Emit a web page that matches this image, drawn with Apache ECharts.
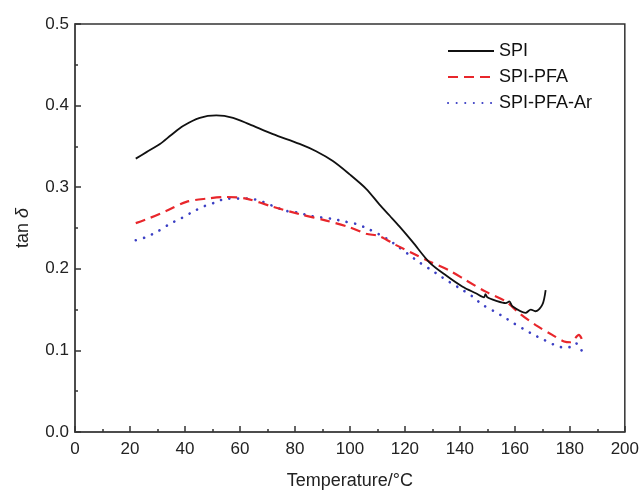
<!DOCTYPE html>
<html><head><meta charset="utf-8">
<script src="https://cdn.jsdelivr.net/npm/echarts@6/dist/echarts.min.js"></script>
<style>html,body{margin:0;padding:0;background:#fff}#c{width:642px;height:495px}</style>
</head><body><div id="c"></div>
<script>
const seriesNames = ['SPI', 'SPI-PFA', 'SPI-PFA-Ar'];
const spi = [[22.1,0.335],[26,0.343],[30.9,0.353],[35,0.364],[39.3,0.375],[45.4,0.385],[51.4,0.388],[57.5,0.385],[63.5,0.377],[72,0.365],[81.7,0.353],[87.7,0.344],[93.8,0.332],[99.8,0.316],[105.9,0.298],[110.7,0.279],[114.5,0.265],[118,0.252],[122.8,0.233],[128.9,0.208],[134.9,0.192],[141,0.178],[145.8,0.170],[148.8,0.165],[149.3,0.169],[150,0.165],[153,0.161],[156.7,0.158],[158,0.160],[159.1,0.154],[163.9,0.146],[165.8,0.150],[167.6,0.148],[170,0.156],[171.2,0.174]];
const spiPfa = [[22.1,0.256],[27,0.262],[33.3,0.271],[40.5,0.282],[47.8,0.286],[55.1,0.288],[62.3,0.286],[72,0.276],[81.7,0.267],[91.4,0.259],[99.8,0.251],[105.9,0.243],[110.7,0.240],[116.8,0.229],[122.8,0.219],[128.9,0.209],[136.1,0.198],[142.2,0.186],[149.4,0.172],[156.7,0.160],[161.5,0.146],[167.6,0.131],[173.6,0.119],[177.9,0.111],[180.3,0.110],[183.3,0.119],[184.2,0.115],[185.1,0.107]];
const spiPfaAr = [[22.1,0.235],[26,0.239],[30.2,0.246],[34.5,0.255],[38.7,0.262],[42.9,0.270],[47.2,0.277],[50.8,0.281],[55.1,0.286],[59.3,0.286],[63.5,0.286],[68.3,0.282],[72,0.277],[76.8,0.271],[81,0.269],[85.3,0.265],[89.5,0.263],[93.8,0.261],[98,0.258],[102.2,0.255],[105.9,0.250],[110.7,0.242],[114.3,0.235],[118,0.226],[121.6,0.217],[125.2,0.208],[128.9,0.200],[132.5,0.192],[136.1,0.184],[141,0.174],[144.6,0.166],[148.2,0.156],[152.4,0.148],[156,0.141],[159.7,0.133],[163.3,0.126],[167,0.119],[170.6,0.113],[174.2,0.107],[177,0.104],[179.9,0.104],[182.1,0.109],[183.9,0.101],[186,0.097]];
const xTicks = [0,20,40,60,80,100,120,140,160,180,200];
const yTicks = [0.0,0.1,0.2,0.3,0.4,0.5];

const font = 'Liberation Sans, Arial, sans-serif';
const chart = echarts.init(document.getElementById('c'));
chart.setOption({
  animation: false,
  backgroundColor: '#fff',
  grid: {left: 75, right: 16, top: 24, bottom: 60.5, show: true, borderColor: '#333', borderWidth: 1.5, backgroundColor: 'transparent'},
  legend: {
    orient: 'vertical', left: 442, top: 37, itemWidth: 46, itemHeight: 14, itemGap: 8,
    textStyle: {fontFamily: font, fontSize: 18, color: '#111'},
    itemStyle: {color: 'rgba(0,0,0,0)', borderColor: 'rgba(0,0,0,0)', borderWidth: 0, opacity: 0},
    data: seriesNames
  },
  xAxis: {
    type: 'value', min: xTicks[0], max: xTicks[xTicks.length-1], interval: 20,
    name: 'Temperature/°C', nameLocation: 'middle', nameGap: 40,
    nameTextStyle: {fontFamily: font, fontSize: 18, color: '#222'},
    axisLine: {show: true, onZero: false, lineStyle: {color: '#444', width: 1.5}},
    axisTick: {show: true, inside: true, length: 6, lineStyle: {color: '#333', width: 1.5}},
    minorTick: {show: true, splitNumber: 2, length: 3, lineStyle: {color: '#333', width: 1.5}},
    axisLabel: {fontFamily: font, fontSize: 17, color: '#222', margin: 9},
    splitLine: {show: false}
  },
  yAxis: {
    type: 'value', min: yTicks[0], max: yTicks[yTicks.length-1], interval: 0.1,
    name: '{n|tan }{d|δ}', nameLocation: 'middle', nameGap: 43, nameRotate: 90,
    nameTextStyle: {rich: {n: {fontFamily: font, fontSize: 18, color: '#222'}, d: {fontFamily: font, fontSize: 18, color: '#222', fontStyle: 'italic'}}},
    axisLine: {show: true, onZero: false, lineStyle: {color: '#444', width: 1.5}},
    axisTick: {show: true, inside: true, length: 6, lineStyle: {color: '#333', width: 1.5}},
    minorTick: {show: true, splitNumber: 2, length: 3, lineStyle: {color: '#333', width: 1.5}},
    axisLabel: {fontFamily: font, fontSize: 17, color: '#222', margin: 6, formatter: v => v.toFixed(1)},
    splitLine: {show: false}
  },
  series: [
    {name: seriesNames[0], type: 'line', data: spi, symbol: 'none', smooth: 0.3, lineStyle: {color: '#111', width: 1.8}, itemStyle: {color: '#111'}, z: 3},
    {name: seriesNames[1], type: 'line', data: spiPfa, symbol: 'none', smooth: 0.3, lineStyle: {color: '#e8262b', width: 2.2, type: [10, 6]}, itemStyle: {color: '#e8262b'}, z: 2},
    {name: seriesNames[2], type: 'line', data: spiPfaAr, symbol: 'none', smooth: 0.3, lineStyle: {color: '#3b3fc4', width: 2.6, type: [0.1, 8.5], cap: 'round'}, itemStyle: {color: '#3b3fc4'}, z: 1}
  ]
});
</script></body></html>
